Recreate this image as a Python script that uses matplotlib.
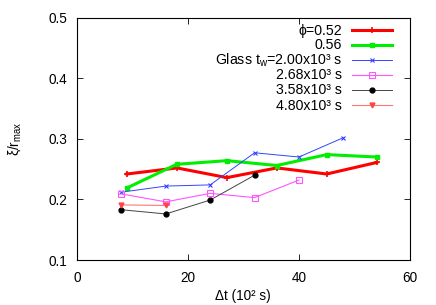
import matplotlib
matplotlib.use("Agg")
import matplotlib.pyplot as plt
from matplotlib.lines import Line2D

plt.rcParams['font.family'] = ['Liberation Sans', 'DejaVu Sans']
plt.rcParams['mathtext.fontset'] = 'custom'
plt.rcParams['mathtext.rm'] = 'Liberation Sans'
plt.rcParams['mathtext.it'] = 'Liberation Sans'
plt.rcParams['mathtext.default'] = 'regular'

# data
x_052 = [9, 18, 27, 36, 45, 54]
y_052 = [0.242, 0.252, 0.236, 0.252, 0.242, 0.261]
x_056 = [9, 18, 27, 36, 45, 54]
y_056 = [0.219, 0.258, 0.264, 0.256, 0.274, 0.270]
x_g200 = [8, 16, 24, 32, 40, 48]
y_g200 = [0.212, 0.222, 0.224, 0.277, 0.270, 0.302]
x_g268 = [8, 16, 24, 32, 40]
y_g268 = [0.209, 0.196, 0.210, 0.203, 0.232]
x_g358 = [8, 16, 24, 32]
y_g358 = [0.183, 0.176, 0.199, 0.240]
x_g480 = [8, 16]
y_g480 = [0.191, 0.190]

labels = ["ϕ=0.52", "0.56", r"Glass t$_w$=2.00x10³ s", "2.68x10³ s",
          "3.58x10³ s", "4.80x10³ s"]

W, H = 436, 305
fig = plt.figure(figsize=(4.36, 3.05), dpi=100)
ax = fig.add_axes([77/W, 1-260/H, 333/W, (260-17.7)/H])

fs = 9.8
lfs = 10.2
styles = [
    dict(color='#ff0000', lw=2.2, marker='+', ms=4, mew=1.2),
    dict(color='#00ee00', lw=2.2, marker='s', ms=3.5, mew=1),
    dict(color='#3344ff', lw=0.7, marker='x', ms=3.5, mew=0.8),
    dict(color='#ff55ff', lw=0.8, marker='s', ms=4, mfc='none', mew=0.8),
    dict(color='#444444', lw=0.7, marker='o', ms=3.5, mfc='black', mec='black'),
    dict(color='#ff7777', lw=0.8, marker='v', ms=3.5, mfc='#ff4444', mec='#ff4444'),
]
series = [(x_052, y_052), (x_056, y_056), (x_g200, y_g200),
          (x_g268, y_g268), (x_g358, y_g358), (x_g480, y_g480)]
for (xs, ys), st, lab in zip(series, styles, labels):
    ax.plot(xs, ys, label=lab, **st)

ax.set_xlim(0, 60)
ax.set_ylim(0.1, 0.5)
ax.set_xticks([0, 20, 40, 60])
ax.set_yticks([0.1, 0.2, 0.3, 0.4, 0.5])
ax.set_yticklabels(['0.1', '0.2', '0.3', '0.4', '0.5'])
ax.tick_params(direction='in', top=True, right=True, length=4, width=0.6,
               labelsize=fs, colors='black')
ax.tick_params(axis='y', pad=7)
ax.tick_params(axis='x', pad=8)
for s in ax.spines.values():
    s.set_linewidth(0.8)

# key (gnuplot style: right-aligned text, sample line on the right)
row_y = [30, 44.5, 60, 74.7, 89.7, 105.3]
for ry, st, lab in zip(row_y, styles, labels):
    fig.text(342/W, 1-(ry+4.5)/H, lab, ha='right', va='baseline', fontsize=lfs)
    line_kw = {k: v for k, v in st.items() if k not in ('marker', 'ms', 'mew', 'mfc', 'mec')}
    fig.add_artist(Line2D([352/W, 392/W], [1-ry/H, 1-ry/H], transform=fig.transFigure, **line_kw))
    mk = {k: v for k, v in st.items() if k != 'lw'}
    fig.add_artist(Line2D([372/W], [1-ry/H], transform=fig.transFigure, ls='none', **mk))

ax.set_ylabel(r"ξ/r$_{max}$", fontsize=fs)
ax.yaxis.set_label_coords((23-77)/333, 0.5)
fig.text(243/W, 1-289/H, "Δt (10² s)", ha='center', va='top', fontsize=fs)

fig.savefig("out.png", dpi=100)
